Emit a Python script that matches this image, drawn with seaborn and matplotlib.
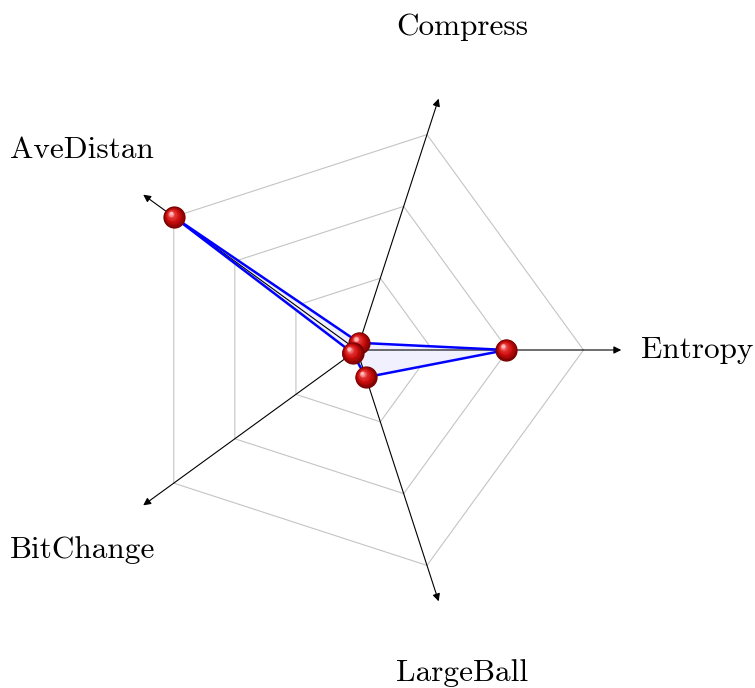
import numpy as np
import matplotlib
matplotlib.use("Agg")
import matplotlib.pyplot as plt
import matplotlib.transforms as mtransforms
from matplotlib.colors import LinearSegmentedColormap
import seaborn as sns

# datos del radar
categories = ["Entropy", "Compress", "AveDistan", "BitChange", "LargeBall"]
values = [1.98, 0.10, 2.99, 0.07, 0.38]
grid_levels = [1, 2, 3]
axis_length = 3.5
label_radius = 4.5

sns.set_style("white")

n = len(categories)
angles = np.deg2rad(np.arange(n) * 360.0 / n)
theta_closed = np.append(angles, 2 * np.pi)
values_closed = np.append(values, values[0])

W, H = 755, 688
fig = plt.figure(figsize=(W / 100, H / 100), dpi=100)
rmax = 4.0
unit = 75.5          # pixeles por unidad radial
cx, cy = 357, 350    # centro del radar en pixeles
half = rmax * unit
ax = fig.add_axes([(cx - half) / W, (H - cy - half) / H, 2 * half / W, 2 * half / H],
                  projection="polar")
ax.set_ylim(0, rmax)
ax.grid(False)
ax.set_xticks([])
ax.set_yticks([])
ax.spines["polar"].set_visible(False)
ax.set_facecolor("none")

# rejilla pentagonal
for level in grid_levels:
    sns.lineplot(x=theta_closed, y=[level] * len(theta_closed), sort=False, estimator=None,
                 color="#c4c4c4", linewidth=0.8, ax=ax, zorder=1)

# relleno del poligono
ax.fill(theta_closed, values_closed, color=(0.94, 0.94, 1.0), zorder=2, linewidth=0)

# ejes con flechas
for a in angles:
    ax.annotate("", xy=(a, axis_length), xytext=(a, 0),
                arrowprops=dict(arrowstyle="-|>", color="black", lw=0.8,
                                mutation_scale=11, shrinkA=0, shrinkB=0),
                zorder=3)

# contorno azul
sns.lineplot(x=theta_closed, y=values_closed, sort=False, estimator=None,
             color="blue", linewidth=1.8, ax=ax, zorder=4)

# etiquetas
for a, name in zip(angles, categories):
    ax.text(a, label_radius, name, ha="center", va="center", fontsize=22.5,
            family="cmr10", color="black")

# esferas rojas con sombreado
ball_cmap = LinearSegmentedColormap.from_list(
    "ball", [(0.0, (0.45, 0.0, 0.0)), (0.45, (0.80, 0.05, 0.05)),
             (0.8, (0.90, 0.22, 0.22)), (1.0, (1.0, 0.72, 0.72))])
steps = 16
D = 16.0
for i, (a, v) in enumerate(zip(angles, values)):
    for k in range(steps):
        t = k / (steps - 1)
        tr = mtransforms.offset_copy(ax.transData, fig=fig, x=-2.6 * t, y=2.9 * t, units="points")
        ax.scatter([a], [v], s=(D * (1 - 0.84 * t)) ** 2, color=ball_cmap(t),
                   transform=tr, zorder=10 + i, linewidths=0)

fig.savefig("out.png", dpi=100, facecolor="white")
